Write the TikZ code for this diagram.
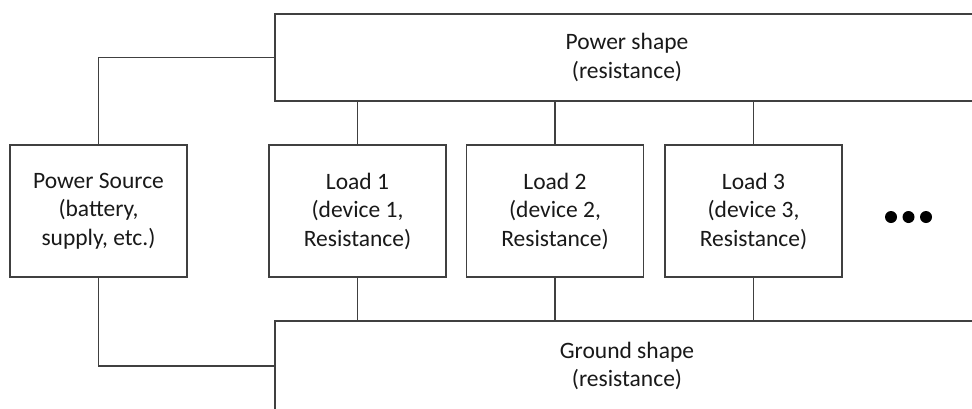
\documentclass[tikz,border=0pt]{standalone}
\usepackage{fontspec}
\setmainfont{Carlito}
\begin{document}
\begin{tikzpicture}[x=1pt,y=-1pt,
  line/.style={draw=black!75, line width=1.8pt},
  blk/.style={line, rectangle, align=center, inner sep=0pt, text=black!90,
    font=\fontsize{23.5}{28.5}\selectfont},
  dot/.style={circle, fill=black, inner sep=0pt, minimum size=12pt}]
\useasboundingbox (0,0) rectangle (972,408);
\clip (0,0) rectangle (972,408);
\fill[white] (0,0) rectangle (972,408);
\node[blk, minimum width=704pt, minimum height=87pt] (pow) at (627,57.5) {Power shape\\(resistance)};
\node[blk, minimum width=704pt, minimum height=90pt] (gnd) at (627,366) {Ground shape\\(resistance)};
\node[blk, minimum width=177pt, minimum height=132pt] (src) at (98.5,211) {Power Source\\(battery,\\supply, etc.)};
\node[blk, minimum width=177pt, minimum height=132pt] (l1) at (357.5,211) {Load 1\\(device 1,\\Resistance)};
\node[blk, minimum width=177pt, minimum height=132pt] (l2) at (555,211) {Load 2\\(device 2,\\Resistance)};
\node[blk, minimum width=177pt, minimum height=132pt] (l3) at (753.5,211) {Load 3\\(device 3,\\Resistance)};
\node[dot] (d1) at (891,217) {};
\node[dot] (d2) at (908.5,217) {};
\node[dot] (d3) at (926,217) {};
\draw[line] (src.north) |- (pow.west);
\draw[line] (src.south) |- (gnd.west);
\foreach \n in {l1,l2,l3}{
  \draw[line] (\n.north) -- (\n.north |- pow.south);
  \draw[line] (\n.south) -- (\n.south |- gnd.north);
}
\end{tikzpicture}
\end{document}
